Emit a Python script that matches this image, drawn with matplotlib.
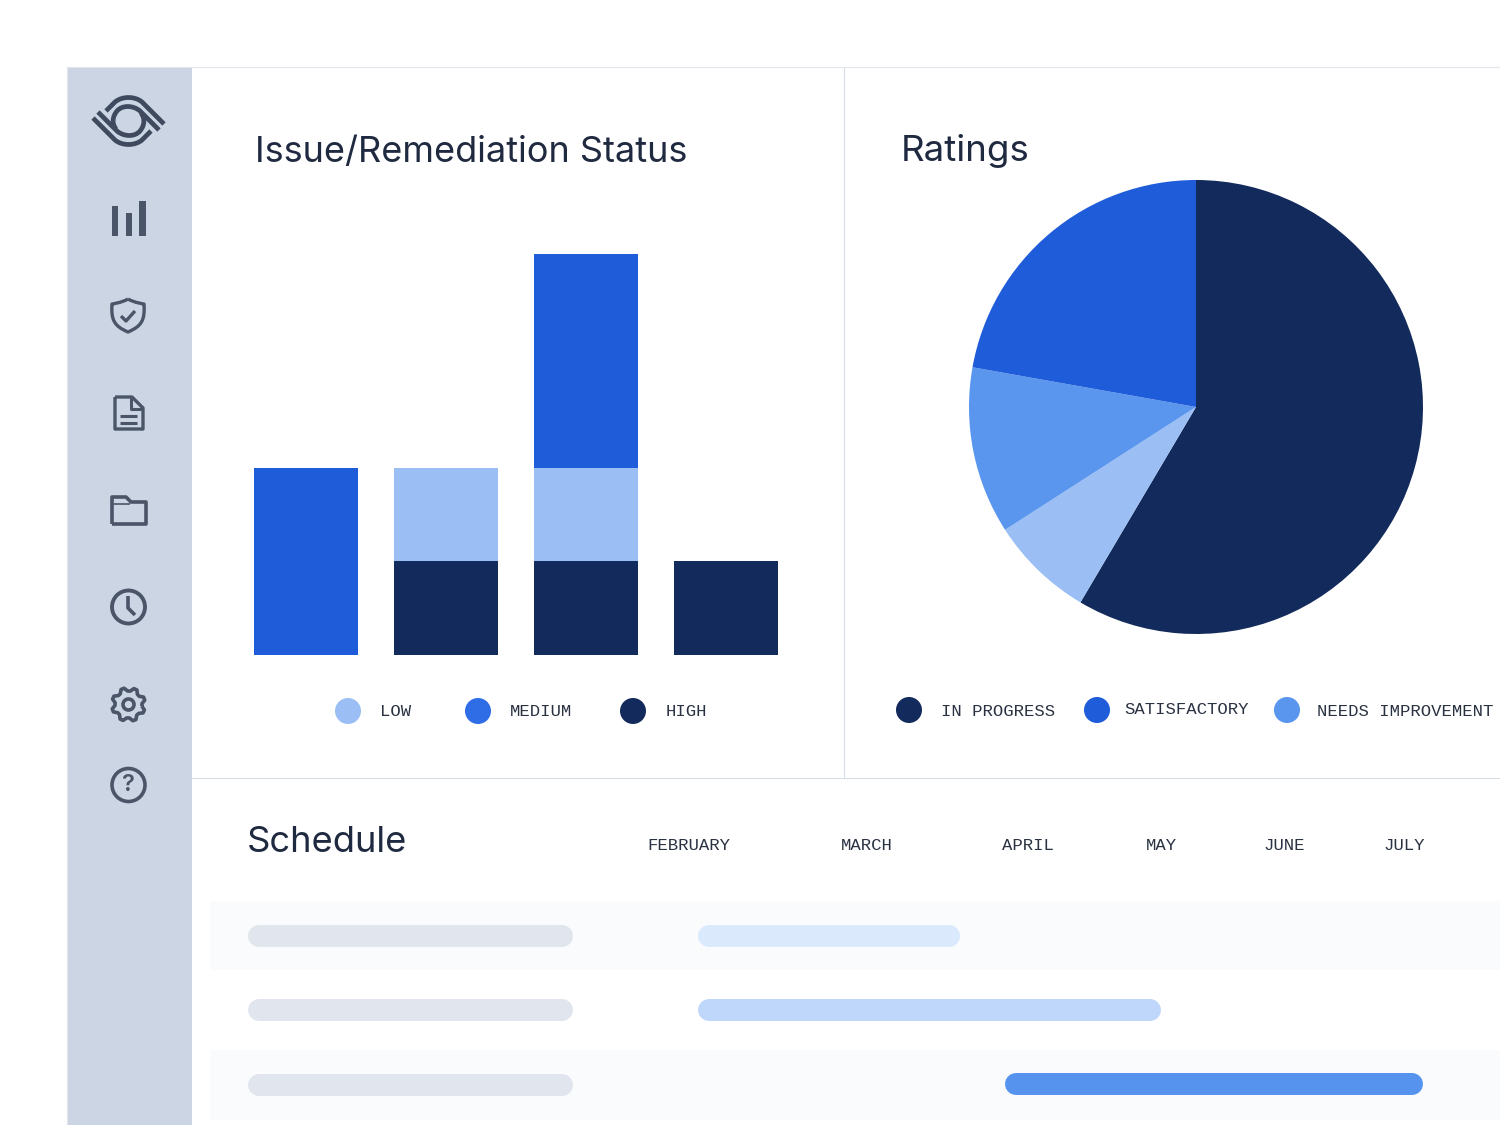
import numpy as np
import matplotlib
matplotlib.use("Agg")
import matplotlib.pyplot as plt
from matplotlib.patches import Circle, Ellipse, PathPatch, Rectangle
from matplotlib.path import Path

# ---- data ----
bar_categories = ["A", "B", "C", "D"]
bar_high = [0, 2, 2, 2]
bar_low = [0, 2, 2, 0]
bar_medium = [4, 0, 4.6, 0]
pie_labels = ["IN PROGRESS", "LOW", "NEEDS IMPROVEMENT", "SATISFACTORY"]
pie_values = [58.5, 7.4, 11.9, 22.2]
months = ["FEBRUARY", "MARCH", "APRIL", "MAY", "JUNE", "JULY"]
month_x = [647, 841, 1002, 1146, 1263, 1383]
task_start = [698, 698, 1005]
task_end = [960, 1161, 1423]
task_colors = ["#dbe9fd", "#bfd7fa", "#5593ee"]

NAVY, BLUE, MID, LIGHT = "#122b5c", "#1f5cd9", "#5a96ee", "#9bbff4"
INK, ICON = "#1f2a40", "#4a5568"
TITLE = dict(family="Inter", color=INK, va="center", ha="left", fontweight="normal")
MONO = dict(family="Liberation Mono", color="#2a3242", va="center", ha="left", fontsize=12.4)

fig = plt.figure(figsize=(15, 11.25), dpi=100, facecolor="white")
bg = fig.add_axes([0, 0, 1, 1])
bg.set_xlim(0, 1500); bg.set_ylim(1125, 0); bg.axis("off")

# ---- chrome ----
bg.add_patch(Rectangle((67, 68), 125, 1057, fc="#cbd5e3", ec="none"))
bg.plot([67, 1499], [67, 67], color="#e3e7ed", lw=0.8)
bg.plot([66.5, 66.5], [68, 1125], color="#e3e7ed", lw=0.8)
bg.plot([843.7, 843.7], [68, 778], color="#d9dee6", lw=0.8)
bg.plot([192, 1499], [777.7, 777.7], color="#d9dee6", lw=0.8)
for y0, y1 in [(901, 970), (1050, 1120)]:
    bg.add_patch(Rectangle((210, y0), 1290, y1 - y0, fc="#fafbfd", ec="none"))

def stroke(verts, codes=None, lw=2.4):
    bg.add_patch(PathPatch(Path(verts, codes), fc="none", ec=ICON, lw=lw,
                           capstyle="butt", joinstyle="round", zorder=3))

M, L, C = Path.MOVETO, Path.LINETO, Path.CURVE4

# logo
def mirrored(v):
    return [(257 - x, 242 - y) for x, y in v]
outer = [(93, 118), (115, 140), (122, 146), (135, 146), (142, 140), (151, 131)]
inner = [(98, 112), (117, 131), (124, 137), (135, 137), (140, 131), (145, 125), (145, 118), (141, 113)]
co = [M, L, C, C, C, L]
ci = [M, L, C, C, C, C, C, C]
for v, c in [(outer, co), (inner, ci)]:
    bg.add_patch(PathPatch(Path(v, c), fc="none", ec="#3f4a5e", lw=3.4, zorder=3))
    bg.add_patch(PathPatch(Path(mirrored(v), c), fc="none", ec="#3f4a5e", lw=3.4, zorder=3))

# bars icon
for x0, top in [(111.5, 206), (125.5, 213), (139, 201)]:
    bg.add_patch(Rectangle((x0, top), 6.5, 236 - top, fc=ICON, ec="none", zorder=3))

# shield
stroke([(128, 299), (135, 303), (144, 304), (144, 304), (145, 320), (142, 326), (128, 332),
        (114, 326), (111, 320), (112, 304), (112, 304), (121, 303), (128, 299)],
       [M, C, C, C, C, C, C, C, C, C, C, C, C])
stroke([(121, 316), (126, 321), (135, 311)])

# document
stroke([(115, 397), (132, 397), (143, 408), (143, 429), (115, 429), (115, 397)])
stroke([(131, 397), (131, 409), (143, 409)], lw=2.2)
stroke([(120, 416), (137, 416)], lw=2.2)
stroke([(120, 423), (137, 423)], lw=2.2)

# folder
stroke([(112, 524), (112, 497), (126, 497), (131, 502), (146, 502), (146, 524), (112, 524)], lw=2.6)
stroke([(112, 504), (130, 504)], lw=1.2)

# clock
bg.add_patch(Circle((128.5, 607), 16.5, fc="none", ec=ICON, lw=2.8, zorder=3))
stroke([(128, 596), (128, 608), (135, 615)], lw=2.6)

# gear
n = 8
th = np.linspace(0, 2 * np.pi, n * 4, endpoint=False) + np.pi / 8 - np.pi / 12
rad = np.tile([13.5, 16.8, 16.8, 13.5], n)
gx = 128.5 + rad * np.cos(th); gy = 704.5 + rad * np.sin(th)
stroke(list(zip(gx, gy)) + [(gx[0], gy[0])], lw=2.6)
bg.add_patch(Circle((128.5, 704.5), 5.5, fc="none", ec=ICON, lw=2.6, zorder=3))

# help
bg.add_patch(Circle((128.5, 785), 16.5, fc="none", ec=ICON, lw=2.6, zorder=3))
bg.text(128.5, 785, "?", family="Inter", fontsize=17, fontweight="semibold", color=ICON,
        ha="center", va="center", zorder=3)

# ---- bar chart ----
PX = lambda x0, x1, y0, y1: [x0 / 1500, 1 - y1 / 1125, (x1 - x0) / 1500, (y1 - y0) / 1125]
ax = fig.add_axes(PX(254, 778, 254, 654.5), facecolor="none")
x = np.arange(len(bar_categories))
w = 0.7465
h = np.array(bar_high, float); l = np.array(bar_low, float); m = np.array(bar_medium, float)
ax.bar(x, h, w, color=NAVY)
ax.bar(x, l, w, bottom=h, color=LIGHT)
ax.bar(x, m, w, bottom=h + l, color=BLUE)
ax.set_xlim(-w / 2, 3 + w / 2); ax.set_ylim(0, 8.6); ax.axis("off")

# ---- pie ----
pa = fig.add_axes(PX(969, 1423, 180, 634), facecolor="none")
pa.pie(pie_values, colors=[NAVY, LIGHT, MID, BLUE], startangle=90, counterclock=False, radius=1)
pa.set_xlim(-1, 1); pa.set_ylim(-1, 1)

# ---- titles ----
bg.text(255, 152, "Issue/Remediation Status", fontsize=26, **TITLE)
bg.text(901, 151, "Ratings", fontsize=26.4, **TITLE)
bg.text(247, 843, "Schedule", fontsize=26.2, **TITLE)

# ---- legends ----
for cx, cy, c, label, tx, ty in [
    (348, 711, LIGHT, "LOW", 380, 712),
    (478, 711, "#2f6de6", "MEDIUM", 510, 712),
    (633, 711, NAVY, "HIGH", 666, 712),
    (909, 710, NAVY, "IN PROGRESS", 941, 711),
    (1097, 710, BLUE, "SATISFACTORY", 1124, 710),
    (1287, 710, MID, "NEEDS IMPROVEMENT", 1317, 711),
]:
    bg.add_patch(Ellipse((cx, cy), 26, 26, fc=c, ec="none", zorder=3))
    bg.text(tx, ty, label, **MONO)

# ---- schedule ----
for mx, name in zip(month_x, months):
    bg.text(mx, 845, name, **MONO)

def pill(x0, x1, yc, c):
    bg.plot([x0 + 11, x1 - 11], [yc, yc], color=c, lw=22 * 0.72, solid_capstyle="round", zorder=3)

for yc, s, e, c in zip([936, 1010, 1084], task_start, task_end, task_colors):
    pill(248, 573, yc + (1 if yc == 1084 else 0), "#e1e6ee")
    pill(s, e, yc, c)

fig.savefig("out.png", dpi=100)
